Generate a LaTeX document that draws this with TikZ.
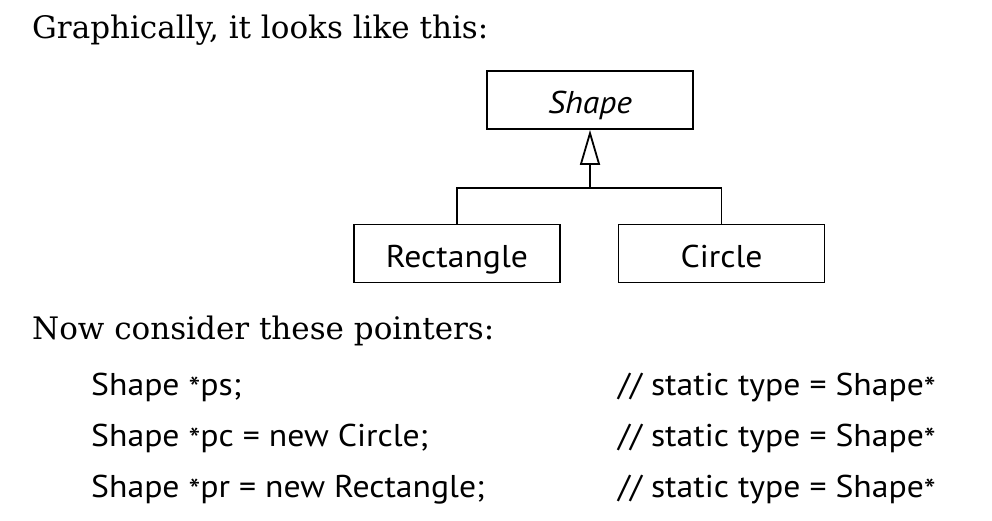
\documentclass[tikz,border=0pt]{standalone}
\usepackage{fontspec}
\setmainfont{DejaVu Serif}
\newfontfamily\umlfont[FakeStretch=1.07]{PT Sans}
\usetikzlibrary{arrows.meta}
\newcommand{\ptrstar}{\raisebox{-0.28ex}{*}}
\tikzset{
  classbox/.style={draw, line width=1.8pt, minimum width=206pt, minimum height=58pt,
    inner sep=0pt, text height=30pt, text depth=3pt,
    font=\umlfont\fontsize{31.5}{36}\selectfont},
  prose/.style={anchor=base west, inner sep=0pt, font=\fontsize{31}{36}\selectfont},
  code/.style={anchor=base west, inner sep=0pt, font=\umlfont\fontsize{31.5}{36}\selectfont}
}
\begin{document}
\begin{tikzpicture}[x=1pt,y=1pt]
\useasboundingbox (0,0) rectangle (992,-520);
\node[prose] (intro) at (32,-38) {Graphically, it looks like this:};
\node[classbox] (shape) at (590,-100) {\itshape Shape};
\node[classbox] (rect) at (457,-253.5) {Rectangle};
\node[classbox] (circ) at (721.5,-253.5) {Circle};
\coordinate (join) at (590,-188);
\draw[line width=1.8pt] (rect.north) |- (join) -| (circ.north);
\draw[line width=1.8pt, -{Triangle[open,length=35pt,width=20pt]}] (join) -- (shape.south);
\node[prose] (now) at (32,-339) {Now consider these pointers:};
\node[code] (ps) at (91,-395) {Shape \ptrstar ps;};
\node[code] (pc) at (91,-446) {Shape \ptrstar pc = new Circle;};
\node[code] (pr) at (91,-497) {Shape \ptrstar pr = new Rectangle;};
\node[code] (tps) at (618,-395) {// static type = Shape\ptrstar};
\node[code] (tpc) at (618,-446) {// static type = Shape\ptrstar};
\node[code] (tpr) at (618,-497) {// static type = Shape\ptrstar};
\end{tikzpicture}
\end{document}
